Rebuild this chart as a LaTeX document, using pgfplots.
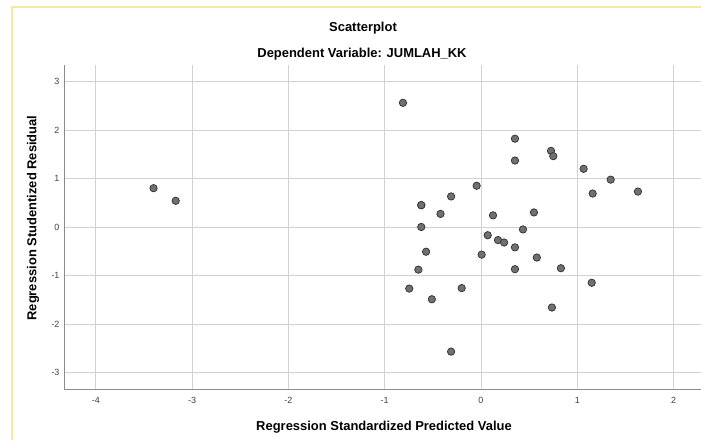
\documentclass[border=0pt]{standalone}
\usepackage{pgfplots}
\pgfplotsset{compat=1.18}
\usepackage{fontspec}
\setmainfont{Liberation Sans}
\definecolor{gridc}{HTML}{D2D2D2}
\definecolor{axisc}{HTML}{8C8C8C}
\definecolor{yellowc}{HTML}{FBE7A1}
\definecolor{markfill}{HTML}{707070}
\definecolor{markedge}{HTML}{2F2F2F}
\definecolor{tickc}{HTML}{404040}
\begin{document}
\begin{tikzpicture}[x=1bp,y=1bp]
\useasboundingbox (0,0) rectangle (701,440);
\fill[white] (0,0) rectangle (701,440);
\draw[yellowc, line width=1.6bp] (12,-5) -- (12,433) -- (710,433);
\begin{axis}[
  at={(64bp,51bp)}, anchor=south west,
  scale only axis, width=637bp, height=324bp,
  xmin=-4.33, xmax=2.285, ymin=-3.34, ymax=3.34,
  axis lines=left,
  axis line style={-, axisc, line width=0.8bp},
  major tick length=0pt,
  grid=major,
  grid style={gridc, line width=0.9bp},
  xtick={-4,-3,-2,-1,0,1,2},
  xticklabels={-4,-3,-2,-1,0,1,2},
  ytick={-3,-2,-1,0,1,2,3},
  yticklabels={-3,-2,-1,0,1,2,3},
  ticklabel style={font=\fontsize{9}{9}\selectfont, text=tickc},
  xticklabel style={yshift=-5bp},
  yticklabel style={xshift=-1bp},
  clip=false,
]
\addplot[only marks, mark=*, mark size=3.7bp,
  mark options={fill=markfill, draw=markedge, line width=0.7bp}]
coordinates {
(-3.40,0.80) (-3.17,0.54) (-0.81,2.56)
(0.353,1.82) (0.727,1.57) (0.751,1.46) (0.353,1.37)
(1.066,1.20) (1.347,0.976) (1.16,0.69) (1.63,0.73)
(-0.045,0.85) (-0.31,0.63) (-0.62,0.45) (-0.62,0.45)
(-0.42,0.27) (0.125,0.24) (0.55,0.30) (-0.62,0.00)
(0.436,-0.05) (0.07,-0.17) (0.177,-0.27) (0.24,-0.32)
(0.353,-0.42) (-0.57,-0.51) (0.007,-0.57) (0.58,-0.63)
(-0.65,-0.88) (0.353,-0.87) (0.83,-0.85)
(-0.745,-1.27) (-0.20,-1.26) (1.15,-1.15) (-0.51,-1.49)
(0.737,-1.66) (-0.31,-2.57)
};
\end{axis}
\node[font=\bfseries\fontsize{13}{13}\selectfont, anchor=base] at (363,408) {Scatterplot};
\node[font=\bfseries\fontsize{13}{13}\selectfont, anchor=base] at (362,382.5) {Dependent Variable: JUMLAH\_KK};
\node[font=\bfseries\fontsize{13}{13}\selectfont, anchor=base] at (384,9.5) {Regression Standardized Predicted Value};
\node[font=\bfseries\fontsize{13}{13}\selectfont, rotate=90, anchor=center] at (33,222) {Regression Studentized Residual};
\end{tikzpicture}
\end{document}
